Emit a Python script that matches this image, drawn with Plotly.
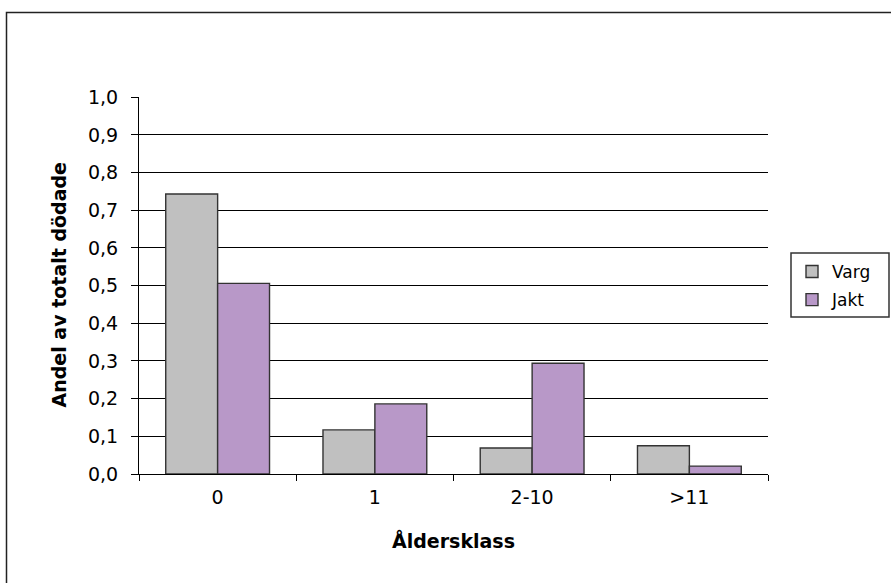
import plotly.graph_objects as go

# Age classes and share of total killed per cause
categories = ["0", "1", "2-10", ">11"]
varg = [0.743, 0.117, 0.069, 0.075]
jakt = [0.506, 0.186, 0.294, 0.021]
y_ticks = [0.0, 0.1, 0.2, 0.3, 0.4, 0.5, 0.6, 0.7, 0.8, 0.9, 1.0]

W, H = 891, 583
L, R, T, B = 139, 123, 97, 109
pw, ph = W - L - R, H - T - B


def px_x(x):
    return (x - L) / pw


def px_y(y):
    return (H - B - y) / ph


font = "DejaVu Sans, Verdana, sans-serif"
outline = dict(color="#333333", width=1.4)

fig = go.Figure()
fig.add_trace(go.Bar(name="Varg", x=categories, y=varg, legendgroup="v",
                     marker=dict(color="#C0C0C0", line=outline)))
fig.add_trace(go.Bar(name="Jakt", x=categories, y=jakt, legendgroup="j",
                     marker=dict(color="#B898C8", line=outline)))

fig.update_layout(
    width=W, height=H,
    margin=dict(l=L, r=R, t=T, b=B, pad=0),
    paper_bgcolor="white", plot_bgcolor="white",
    separators=", ",
    barmode="group", bargap=0.34, bargroupgap=0,
    font=dict(family=font, size=19, color="#000000"),
    showlegend=True,
    legend=dict(
        x=px_x(792), y=px_y(254), xanchor="left", yanchor="top",
        borderwidth=0, bgcolor="rgba(0,0,0,0)",
        font=dict(family=font, size=17),
        traceorder="grouped", tracegroupgap=3,
        itemwidth=30,
    ),
    xaxis=dict(
        type="category",
        showline=True, linecolor="#000000", linewidth=1,
        ticks="outside", ticklen=6, tickcolor="#000000",
        tickson="boundaries",
        showgrid=False,
        tickfont=dict(family=font, size=19),
        ticklabelstandoff=6,
    ),
    yaxis=dict(
        range=[0, 1.0005],
        tickvals=y_ticks, tickformat=".1f",
        showline=True, linecolor="#000000", linewidth=1,
        ticks="outside", ticklen=7, tickcolor="#000000",
        showgrid=True, gridcolor="#000000", gridwidth=1,
        zeroline=False,
        tickfont=dict(family=font, size=19),
        ticklabelstandoff=9,
    ),
    annotations=[
        dict(text="<b>Åldersklass</b>", xref="paper", yref="paper",
             x=0.5, y=px_y(540), xanchor="center", yanchor="middle",
             showarrow=False, font=dict(family=font, size=19)),
        dict(text="<b>Andel av totalt dödade</b>", xref="paper", yref="paper",
             x=px_x(58), y=0.5, xanchor="center", yanchor="middle",
             textangle=-90, showarrow=False, font=dict(family=font, size=19)),
    ],
    shapes=[
        # chart frame
        dict(type="rect", xref="paper", yref="paper",
             x0=px_x(6.5), x1=px_x(905), y0=px_y(12.5), y1=px_y(600),
             line=dict(color="#222222", width=1.5), layer="below"),
        # legend frame
        dict(type="rect", xref="paper", yref="paper",
             x0=px_x(791), x1=px_x(889), y0=px_y(253), y1=px_y(317),
             line=dict(color="#333333", width=1.5), fillcolor="white",
             layer="below"),
    ],
)

fig.write_html("out.html")
